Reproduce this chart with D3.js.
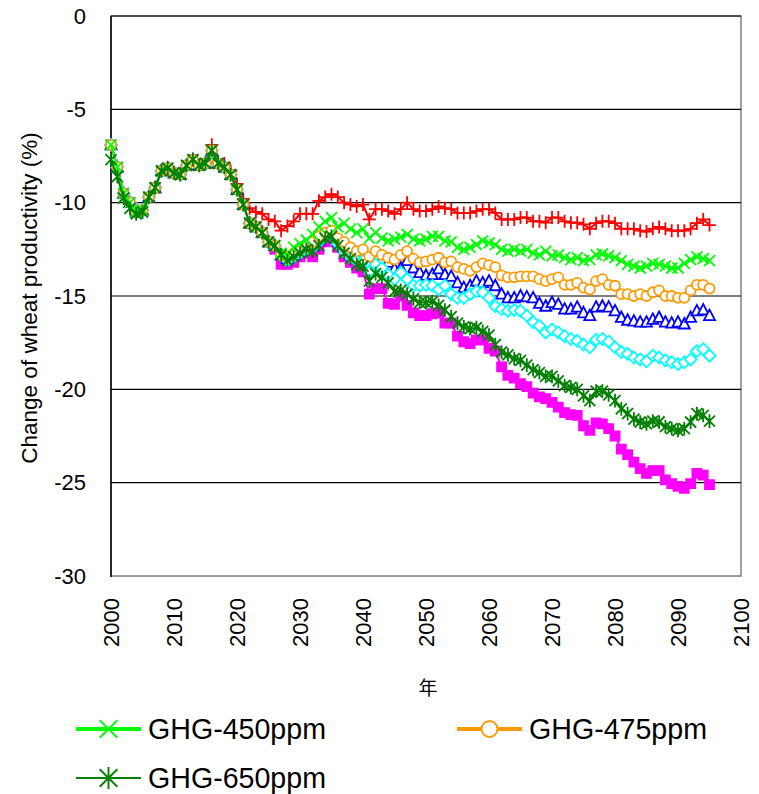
<!DOCTYPE html>
<html lang="ja">
<head>
  <meta charset="UTF-8">
  <title>Change of wheat productivity</title>
  <style>
    body, html { margin: 0; padding: 0; background: #fff; }
    #svg { display: block; }
  </style>
</head>
<body>
  <svg id="svg" width="759" height="794"></svg>
  <script src="https://d3js.org/d3.v7.min.js"></script>
  <script>
    // years 2000..2095
    const years = d3.range(2000, 2096)

    const yTicks = [0, -5, -10, -15, -20, -25, -30]
    const xTicks = [2000, 2010, 2020, 2030, 2040, 2050, 2060, 2070, 2080, 2090, 2100]

    // values, one per year
    const red = [
      -6.9, -8.1, -9.5, -10.0, -10.5, -10.4, -9.7, -9.2, -8.3, -8.15,
      -8.4, -8.5, -8.0, -7.7, -8.0, -7.9, -6.9, -7.8, -7.9, -8.3,
      -9.0, -9.8, -10.3, -10.5, -10.6, -10.9, -11.0, -11.5, -11.25, -11.0,
      -10.6, -10.6, -10.6, -9.9, -9.7, -9.55, -9.7, -10.0, -10.1, -10.2,
      -10.1, -10.9, -10.35, -10.35, -10.45, -10.6, -10.35, -10.0, -10.35, -10.45,
      -10.45, -10.35, -10.2, -10.3, -10.35, -10.55, -10.55, -10.55, -10.45, -10.35,
      -10.35, -10.55, -10.9, -10.9, -10.9, -10.8, -10.8, -11.0, -11.0, -11.07,
      -10.8, -10.8, -11.0, -11.07, -11.07, -11.16, -11.4, -11.1, -11.0, -11.0,
      -11.1, -11.4, -11.4, -11.4, -11.5, -11.55, -11.4, -11.3, -11.4, -11.5,
      -11.5, -11.5, -11.4, -11.1, -10.9, -11.2
    ]
    const ghg450 = [
      -6.9, -8.1, -9.5, -10.0, -10.5, -10.4, -9.7, -9.2, -8.3, -8.15,
      -8.4, -8.5, -8.0, -7.7, -8.0, -7.9, -7.2, -7.9, -8.1, -8.5,
      -9.3, -10.1, -11.1, -11.3, -11.6, -12.1, -12.3, -12.7, -12.8, -12.4,
      -12.2, -12.0, -11.7, -11.3, -11.0, -10.8, -11.3, -11.1, -11.4, -11.6,
      -11.4, -11.9, -11.6, -11.9, -12.05, -11.95, -11.85, -11.7, -11.95, -12.05,
      -11.95, -11.8, -11.8, -12.05, -12.1, -12.4, -12.5, -12.4, -12.25, -12.05,
      -12.15, -12.25, -12.5, -12.6, -12.5, -12.6, -12.5, -12.7, -12.8, -12.6,
      -12.85, -12.8, -12.95, -13.05, -12.95, -13.1, -13.05, -12.8, -12.75, -12.85,
      -12.95, -13.1, -13.3, -13.4, -13.5, -13.4, -13.25, -13.3, -13.4, -13.5,
      -13.5, -13.25, -13.05, -12.9, -13.0, -13.1
    ]
    const ghg475 = [
      -6.9, -8.1, -9.5, -10.0, -10.5, -10.4, -9.7, -9.2, -8.3, -8.15,
      -8.4, -8.5, -8.0, -7.7, -8.0, -7.9, -7.2, -7.9, -8.1, -8.5,
      -9.3, -10.1, -11.1, -11.3, -11.6, -12.1, -12.3, -12.8, -12.9, -12.7,
      -12.5, -12.3, -12.1, -11.8, -11.6, -11.5, -11.9, -12.1, -12.4, -12.6,
      -12.5, -12.9, -12.6, -12.8, -12.95, -13.05, -12.8, -12.6, -13.0, -13.2,
      -13.15, -13.05, -12.95, -13.2, -13.15, -13.45, -13.55, -13.65, -13.45, -13.25,
      -13.35, -13.45, -13.9, -14.0, -14.0, -13.95, -13.95, -13.95, -14.1, -14.2,
      -14.1, -14.0, -14.4, -14.4, -14.3, -14.55, -14.65, -14.2, -14.1, -14.4,
      -14.45, -14.9, -14.9, -15.0, -14.9, -15.0, -14.8, -14.7, -15.0, -15.0,
      -15.1, -15.1, -14.7, -14.4, -14.4, -14.6
    ]
    const blue = [
      -6.9, -8.1, -9.5, -10.0, -10.5, -10.4, -9.7, -9.2, -8.3, -8.15,
      -8.4, -8.5, -8.0, -7.7, -8.0, -7.9, -7.2, -7.9, -8.1, -8.5,
      -9.3, -10.1, -11.1, -11.3, -11.6, -12.1, -12.3, -12.8, -13.0, -12.8,
      -12.6, -12.4, -12.3, -12.0, -11.7, -11.6, -12.1, -12.4, -12.7, -12.9,
      -12.8, -13.3, -12.9, -13.05, -13.2, -13.55, -13.5, -13.1, -13.5, -13.75,
      -13.9, -13.85, -13.55, -13.85, -13.95, -14.3, -14.55, -14.45, -14.2, -14.3,
      -14.2, -14.45, -14.9, -15.1, -15.1, -15.0, -15.05, -15.1, -15.4, -15.55,
      -15.35, -15.45, -15.7, -15.7, -15.6, -15.9, -16.05, -15.6, -15.55, -15.6,
      -15.8, -16.15, -16.3, -16.35, -16.4, -16.4, -16.25, -16.15, -16.4, -16.45,
      -16.4, -16.5, -16.15, -15.8, -15.75, -16.05
    ]
    const cyan = [
      -6.9, -8.1, -9.5, -10.0, -10.5, -10.4, -9.7, -9.2, -8.3, -8.15,
      -8.4, -8.5, -8.0, -7.7, -8.0, -7.9, -7.2, -7.9, -8.1, -8.5,
      -9.3, -10.1, -11.1, -11.3, -11.6, -12.1, -12.3, -12.8, -13.1, -12.9,
      -12.7, -12.5, -12.4, -12.1, -11.8, -11.7, -12.2, -12.6, -12.9, -13.1,
      -13.1, -13.7, -13.3, -13.5, -13.85, -14.1, -13.75, -14.1, -14.45, -14.45,
      -14.4, -14.45, -14.65, -14.45, -14.9, -15.1, -15.1, -14.9, -14.75, -14.8,
      -15.1, -15.55, -15.7, -15.8, -15.75, -15.8, -16.05, -16.4, -16.6, -16.95,
      -16.8, -16.95, -17.15, -17.3, -17.4, -17.6, -17.75, -17.35, -17.3, -17.45,
      -17.75, -18.0, -18.1, -18.3, -18.4, -18.5, -18.2, -18.3, -18.45, -18.55,
      -18.65, -18.55, -18.4, -17.95, -17.85, -18.2
    ]
    const ghg650 = [
      -7.7, -8.6, -9.75, -10.3, -10.6, -10.5, -9.7, -9.2, -8.3, -8.15,
      -8.4, -8.5, -8.0, -7.7, -8.0, -7.9, -7.2, -7.9, -8.1, -8.5,
      -9.3, -10.1, -11.1, -11.3, -11.6, -12.1, -12.3, -12.8, -13.1, -12.9,
      -12.7, -12.5, -12.6, -12.3, -11.9, -11.8, -12.3, -12.7, -13.0, -13.3,
      -13.4, -14.2, -13.8, -14.0, -14.3, -14.75, -14.7, -14.9, -15.15, -15.35,
      -15.35, -15.3, -15.5, -15.75, -16.1, -16.45, -16.65, -16.75, -16.7, -16.9,
      -17.1, -17.6, -18.0, -18.15, -18.35, -18.45, -18.7, -18.95, -19.1, -19.3,
      -19.3, -19.55, -19.8, -19.9, -20.0, -20.35, -20.6, -20.1, -20.1, -20.3,
      -20.6, -21.05, -21.3, -21.6, -21.75, -21.85, -21.7, -21.75, -22.0, -22.1,
      -22.2, -22.1, -21.75, -21.3, -21.4, -21.7
    ]
    const magenta = [
      -6.9, -8.1, -9.5, -10.0, -10.5, -10.4, -9.7, -9.2, -8.3, -8.15,
      -8.4, -8.5, -8.0, -7.7, -8.0, -7.9, -7.2, -7.9, -8.1, -8.5,
      -9.3, -10.1, -11.1, -11.3, -11.6, -12.1, -12.5, -13.3, -13.3, -13.2,
      -12.9, -12.7, -12.9, -12.5, -12.1, -12.0, -12.4, -12.9, -13.2, -13.5,
      -13.7, -14.9, -14.6, -14.6, -15.4, -15.45, -15.0, -15.5, -15.9, -16.05,
      -16.05, -15.95, -15.9, -16.45, -16.45, -17.15, -17.45, -17.55, -17.35, -17.35,
      -17.8, -17.95, -18.8, -19.25, -19.4, -19.7, -19.85, -20.2, -20.4, -20.5,
      -20.7, -20.95, -21.25, -21.35, -21.4, -21.95, -22.2, -21.8, -21.85, -22.1,
      -22.5, -23.2, -23.5, -23.9, -24.25, -24.5, -24.35, -24.35, -24.85, -25.05,
      -25.2, -25.3, -25.05, -24.5, -24.6, -25.1
    ]

    const plot = { left: 111, right: 741, top: 16, bottom: 576 }

    const x = d3.scaleLinear().domain([2000, 2100]).range([plot.left, plot.right])
    const y = d3.scaleLinear().domain([-30, 0]).range([plot.bottom, plot.top])

    const svg = d3.select('#svg')
    const font = 'Arial, "Liberation Sans", sans-serif'

    // plot area border (grey), then gridlines
    svg.append('rect')
      .attr('x', plot.left).attr('y', plot.top)
      .attr('width', plot.right - plot.left).attr('height', plot.bottom - plot.top)
      .attr('fill', 'none').attr('stroke', '#808080').attr('stroke-width', 1.5)

    svg.append('g')
      .selectAll('line')
      .data(yTicks.filter(d => d > -30))
      .join('line')
      .attr('x1', plot.left).attr('x2', plot.right)
      .attr('y1', d => y(d)).attr('y2', d => y(d))
      .attr('stroke', '#000').attr('stroke-width', 1.2)

    // left axis line
    svg.append('line')
      .attr('x1', plot.left).attr('x2', plot.left)
      .attr('y1', plot.top).attr('y2', plot.bottom + 1)
      .attr('stroke', '#000').attr('stroke-width', 1.5)

    // y tick labels
    svg.append('g')
      .selectAll('text')
      .data(yTicks)
      .join('text')
      .attr('x', plot.left - 25)
      .attr('y', d => y(d))
      .attr('dy', '0.35em')
      .attr('text-anchor', 'end')
      .attr('font-family', font)
      .attr('font-size', 22)
      .text(d => d)

    // x tick labels, rotated
    svg.append('g')
      .selectAll('text')
      .data(xTicks)
      .join('text')
      .attr('transform', d => `translate(${x(d)}, ${plot.bottom + 22}) rotate(-90)`)
      .attr('dy', '0.35em')
      .attr('text-anchor', 'end')
      .attr('font-family', font)
      .attr('font-size', 22)
      .text(d => d)

    // axis titles
    svg.append('text')
      .attr('transform', `translate(29, 298) rotate(-90)`)
      .attr('dy', '0.35em')
      .attr('text-anchor', 'middle')
      .attr('font-family', font)
      .attr('font-size', 22.5)
      .text('Change of wheat productivity (%)')

    svg.append('text')
      .attr('x', 428).attr('y', 695)
      .attr('text-anchor', 'middle')
      .attr('font-family', '"Noto Sans CJK JP", sans-serif')
      .attr('font-size', 19)
      .text('年')

    // marker shapes
    const sym = {
      plus: d3.symbol().type({ draw(c) { const r = 6.5; c.moveTo(-r, 0); c.lineTo(r, 0); c.moveTo(0, -r); c.lineTo(0, r) } }),
      cross: d3.symbol().type({ draw(c) { const r = 5.5; c.moveTo(-r, -r); c.lineTo(r, r); c.moveTo(-r, r); c.lineTo(r, -r) } }),
      star: d3.symbol().type({ draw(c) { const r = 5.5; c.moveTo(-r, -r); c.lineTo(r, r); c.moveTo(-r, r); c.lineTo(r, -r); c.moveTo(0, -r * 1.25); c.lineTo(0, r * 1.25) } }),
      circle: d3.symbol().type({ draw(c) { c.moveTo(5, 0); c.arc(0, 0, 5, 0, 2 * Math.PI) } }),
      triangle: d3.symbol().type({ draw(c) { c.moveTo(0, -6); c.lineTo(5.5, 4.5); c.lineTo(-5.5, 4.5); c.closePath() } }),
      diamond: d3.symbol().type({ draw(c) { c.moveTo(0, -6); c.lineTo(6, 0); c.lineTo(0, 6); c.lineTo(-6, 0); c.closePath() } }),
      square: d3.symbol().type({ draw(c) { c.rect(-4.5, -4.5, 9, 9) } })
    }

    // draw order: bottom to top
    const series = [
      { name: 'magenta', values: magenta, color: '#FF00FF', marker: 'square', fill: '#FF00FF' },
      { name: 'red', values: red, color: '#FF0000', marker: 'plus', fill: 'none' },
      { name: 'blue', values: blue, color: '#0000FF', marker: 'triangle', fill: '#fff' },
      { name: 'cyan', values: cyan, color: '#00FFFF', marker: 'diamond', fill: '#fff' },
      { name: 'GHG-475ppm', values: ghg475, color: '#FF9900', marker: 'circle', fill: '#fff' },
      { name: 'GHG-450ppm', values: ghg450, color: '#00FF00', marker: 'cross', fill: 'none' },
      { name: 'GHG-650ppm', values: ghg650, color: '#008000', marker: 'star', fill: 'none' }
    ]

    const line = d3.line()
      .x((d, i) => x(years[i]))
      .y(d => y(d))

    series.forEach(s => {
      const g = svg.append('g')
      g.append('path')
        .attr('d', line(s.values))
        .attr('fill', 'none')
        .attr('stroke', s.color)
        .attr('stroke-width', 2)
      g.selectAll('path.m')
        .data(s.values)
        .join('path')
        .attr('class', 'm')
        .attr('transform', (d, i) => `translate(${x(years[i])}, ${y(d)})`)
        .attr('d', sym[s.marker])
        .attr('fill', s.fill)
        .attr('stroke', s.color)
        .attr('stroke-width', 1.8)
    })

    // legend (only three entries are shown)
    const legend = [
      { name: 'GHG-450ppm', color: '#00FF00', marker: 'cross', fill: 'none', lx: 76, ly: 729, w: 4 },
      { name: 'GHG-475ppm', color: '#FF9900', marker: 'circle', fill: '#fff', lx: 457, ly: 729, w: 4 },
      { name: 'GHG-650ppm', color: '#008000', marker: 'star', fill: 'none', lx: 76, ly: 778, w: 2 }
    ]
    const lg = svg.append('g').selectAll('g').data(legend).join('g')
      .attr('transform', d => `translate(${d.lx}, ${d.ly})`)
    lg.append('line')
      .attr('x1', 0).attr('x2', 65)
      .attr('stroke', d => d.color)
      .attr('stroke-width', d => d.w)
    lg.append('path')
      .attr('transform', 'translate(32.5, 0) scale(1.6)')
      .attr('d', d => sym[d.marker]())
      .attr('fill', d => d.fill)
      .attr('stroke', d => d.color)
      .attr('stroke-width', 1.2)
    lg.append('text')
      .attr('x', 72)
      .attr('dy', '0.35em')
      .attr('font-family', font)
      .attr('font-size', 28.6)
      .text(d => d.name)
  </script>
</body>
</html>
